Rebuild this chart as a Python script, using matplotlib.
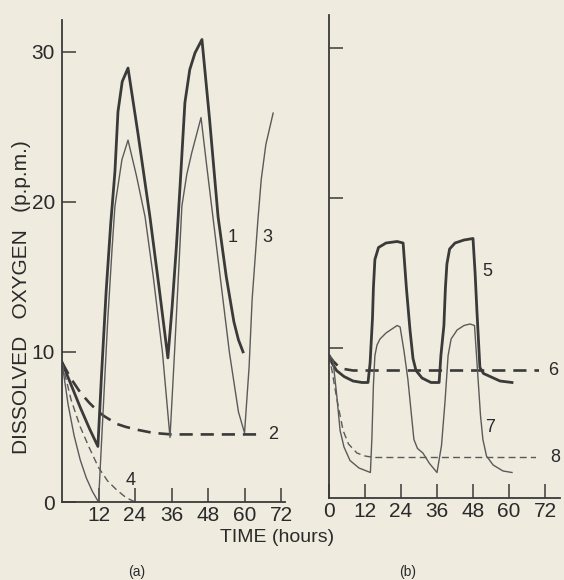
import matplotlib.pyplot as plt
import numpy as np

plt.rcParams['font.family'] = ['Liberation Sans', 'DejaVu Sans']

# ---- panel (a) ----
# curve 1 (thick solid)
t1 = [0, 3, 6, 9, 11.8, 13, 14.5, 16, 17.4, 18.4, 19.8, 21.7, 25, 28.9, 31.9, 34.8,
      36.2, 37.6, 38.8, 40.4, 42, 43.7, 46, 48.5, 51.3, 54, 56.5, 58, 59.5]
y1 = [9.3, 7.8, 6.3, 4.9, 3.7, 8.5, 14, 18.5, 22, 26, 28, 28.9, 24.5, 19, 14.3, 9.6,
      13, 17, 21, 26.6, 28.8, 29.9, 30.8, 25.5, 19, 15, 12, 10.8, 10]
# curve 2 (thick dashed)
t2 = [0, 3, 6, 9, 12, 14, 18, 21, 25, 30, 36, 48, 60, 65]
y2 = [9.3, 8.2, 7.3, 6.6, 6.0, 5.7, 5.2, 5.0, 4.8, 4.6, 4.5, 4.5, 4.5, 4.5]
# curve 3 (thin solid)
t3 = [0, 2, 4, 6, 8, 10, 12, 13.5, 15, 16.5, 17.4, 19.7, 21.7, 24.5, 27.3, 30, 33, 35.5,
      37, 38.5, 39.4, 41, 42.7, 45.7, 47.5, 49.6, 52, 55, 58, 60,
      61.5, 62.5, 64.4, 65.5, 67, 69.4]
y3 = [9.3, 6.5, 4.4, 2.8, 1.6, 0.7, 0, 6, 12, 17, 19.7, 22.8, 24.1, 21.7, 19, 15, 10, 4.3,
      10, 16, 19.7, 21.8, 23.3, 25.6, 22.5, 19, 15, 10, 6, 4.6,
      9, 13.5, 18.8, 21.5, 23.8, 25.9]
# curve 4 (thin dashed)
t4 = [0, 3, 6, 9, 12, 15, 18, 21, 24]
y4 = [9.3, 6.8, 5.0, 3.6, 2.3, 1.4, 0.8, 0.3, 0]

# ---- panel (b) ----
t5 = [0, 1, 2.5, 5, 8, 11, 13, 13.7, 14.5, 14.8, 15.3, 16.5, 19, 22.7, 24.7, 25.8, 27, 28,
      29, 31, 34, 36.7, 37.3, 38.3, 38.8, 39.3, 40.2, 42, 45, 48, 48.7, 49.3, 50.3,
      51.5, 53.7, 57, 61]
y5 = [9.5, 9.0, 8.5, 8.1, 7.8, 7.7, 7.7, 9, 12, 14, 15.9, 16.7, 17.0, 17.1, 17.0, 14, 11.2, 9.3,
      8.5, 8.0, 7.7, 7.7, 9.5, 11.5, 14, 15.6, 16.6, 17.0, 17.2, 17.3, 15, 12.5, 8.7,
      8.3, 8.1, 7.8, 7.7]
t6 = [0, 1.5, 3, 5, 8, 12, 24, 48, 70]
y6 = [9.5, 9.1, 8.8, 8.6, 8.5, 8.5, 8.5, 8.5, 8.5]
t7 = [0, 1.3, 2.5, 3.7, 5, 7, 10, 13.8, 14.3, 14.8, 15.3, 16, 17, 19, 22.7, 23.7, 25, 26.3,
      27.5, 28.3, 29.5, 31.3, 33.5, 36, 37.5, 38.7, 39.7, 40.7, 42.7, 45, 47, 48.5,
      49.5, 50.5, 51.3, 52.5, 54.7, 58, 61]
y7 = [9.5, 9.2, 7, 4.5, 3.4, 2.5, 2.0, 1.7, 4, 7.5, 9.5, 10.2, 10.6, 11, 11.5, 11.4, 9.8, 7.9,
      5.5, 3.9, 3.3, 3.0, 2.3, 1.7, 3.5, 6.5, 9.5, 10.6, 11.2, 11.5, 11.6, 11.5,
      8.5, 5.5, 3.9, 2.8, 2.2, 1.8, 1.7]
t8 = [0, 1, 2, 3, 4.7, 6.5, 9.3, 12, 15, 24, 48, 69]
y8 = [9.5, 8.5, 7.3, 6.2, 4.5, 3.6, 3.0, 2.8, 2.7, 2.7, 2.7, 2.7]

hours = [12, 24, 36, 48, 60, 72]
bg = '#efebdf'
ink = '#3a3a3a'
thin = '#5a5a5a'
txt = '#2a2a2a'

fig = plt.figure(figsize=(5.64, 5.80), dpi=100, facecolor=bg)
axa = fig.add_axes([62 / 564, 78 / 580, 223 / 564, 482 / 580])
axb = fig.add_axes([329 / 564, 82 / 580, 231 / 564, 483 / 580])

for ax in (axa, axb):
    ax.set_facecolor(bg)
    ax.patch.set_alpha(0)
    for s in ('top', 'right'):
        ax.spines[s].set_visible(False)
    for s in ('left', 'bottom'):
        ax.spines[s].set_color(ink)
        ax.spines[s].set_linewidth(1.3)
    ax.tick_params(direction='in', length=10, width=1.1, color=ink,
                   labelsize=15, labelcolor=txt)
    ax.tick_params(axis='x', pad=3)
    ax.tick_params(axis='y', pad=5)

axa.plot(t1, y1, color=ink, lw=2.0)
axa.plot(t2, y2, color=ink, lw=1.9, ls=(0, (5, 3)))
axa.plot(t3, y3, color=thin, lw=1.0)
axa.plot(t4, y4, color=thin, lw=1.0, ls=(0, (5, 3)))
axa.set_xlim(0, 73.3)
axa.set_ylim(0, 32.1)
axa.set_xticks(hours)
axa.set_yticks([0, 10, 20, 30])
axa.text(56.2, 17.6, '1', fontsize=13, ha='center', va='center', color=txt)
axa.text(67.4, 17.6, '3', fontsize=13, ha='center', va='center', color=txt)
axa.text(69.4, 4.5, '2', fontsize=13, ha='center', va='center', color=txt)
axa.text(22.7, 1.4, '4', fontsize=13, ha='center', va='center', color=txt)

axb.plot(t5, y5, color=ink, lw=2.0)
axb.plot(t6, y6, color=ink, lw=1.9, ls=(0, (5, 3)))
axb.plot(t7, y7, color=thin, lw=1.0)
axb.plot(t8, y8, color=thin, lw=1.0, ls=(0, (5, 3)))
axb.set_xlim(0, 77)
axb.set_ylim(0, 32.2)
axb.set_xticks([0] + hours)
axb.set_yticks([10, 20, 30])
axb.set_yticklabels([])
axb.text(52.7, 15.1, '5', fontsize=13, ha='center', va='center', color=txt)
axb.text(74.7, 8.5, '6', fontsize=13, ha='center', va='center', color=txt)
axb.text(53.7, 4.7, '7', fontsize=13, ha='center', va='center', color=txt)
axb.text(75.3, 2.7, '8', fontsize=13, ha='center', va='center', color=txt)

fig.text(22 / 564, 1 - 297 / 580, 'DISSOLVED   OXYGEN   (p.p.m.)', rotation=90,
         fontsize=15, ha='center', va='center', color=txt)
fig.text(277 / 564, 1 - 538 / 580, 'TIME (hours)', fontsize=14,
         ha='center', va='center', color=txt)
fig.text(137 / 564, 1 - 572 / 580, '(a)', fontsize=10, ha='center', va='center', color=txt)
fig.text(408 / 564, 1 - 572 / 580, '(b)', fontsize=10, ha='center', va='center', color=txt)

fig.savefig('out.png', dpi=100, facecolor=bg)
